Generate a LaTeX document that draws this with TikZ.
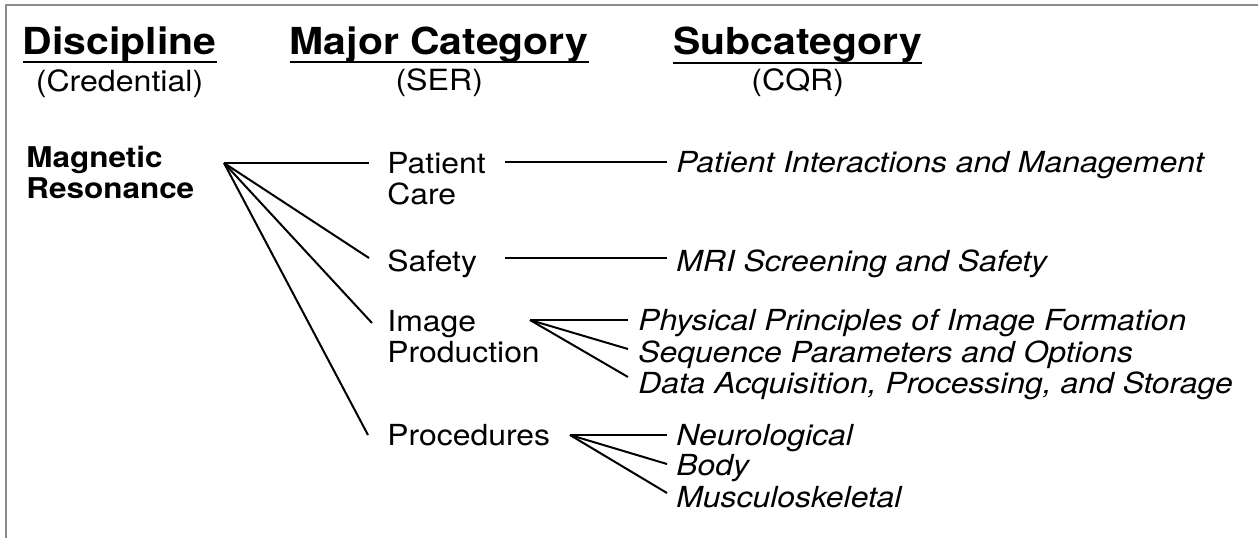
\documentclass[tikz,border=0pt]{standalone}
\usepackage{fontspec}
\setmainfont{TeX Gyre Heros}[FakeStretch=1.1]

\tikzset{
  head/.style={anchor=base west, inner sep=0pt, font=\fontsize{18.6}{20}\selectfont\bfseries},
  paren/.style={anchor=base, inner sep=0pt, font=\fontsize{14.6}{15.5}\selectfont},
  disc/.style={anchor=base west, inner sep=0pt, align=left, font=\fontsize{14.3}{15.5}\selectfont\bfseries},
  cat/.style={anchor=base west, inner sep=0pt, align=left, font=\fontsize{14.5}{15.5}\selectfont},
  item/.style={anchor=base west, inner sep=0pt, font=\fontsize{14.5}{15.5}\selectfont\itshape},
  link/.style={line width=1pt},
  uline/.style={line width=1pt},
}

\begin{document}
\begin{tikzpicture}[x=0.5pt, y=-0.5pt]
		\useasboundingbox (0,0) rectangle (1258,538);
		\draw[black!45, line width=0.8pt] (6,538) -- (6,5) -- (1258,5);

		% column heads
		\node[head] (hdisc) at (22.5,54) {Discipline};
		\node[head] (hmaj) at (289.5,54) {Major Category};
		\node[head] (hsub) at (673,54.5) {Subcategory};
		\foreach \h in {hdisc, hmaj, hsub}
			\draw[uline] ([yshift=-4pt]\h.base west) -- ([yshift=-4pt]\h.base east);
		\path (hdisc.base) ++(0,37) node[paren] (pcred) {(Credential)};
		\path (hmaj.base) ++(0,36) node[paren] (pser) {(SER)};
		\path (hsub.base) ++(0,35.5) node[paren] (pcqr) {(CQR)};

		% discipline and categories (anchored on the last line)
		\node[disc] (mr) at (26,198) {Magnetic\\Resonance};
		\node[cat] (pc) at (387,204) {Patient\\Care};
		\node[cat] (sa) at (387,271) {Safety};
		\node[cat] (ip) at (387,362) {Image\\Production};
		\node[cat] (pr) at (387,445) {Procedures};

		% subcategories
		\node[item] (pim) at (676,172) {Patient Interactions and Management};
		\node[item] (mss) at (676,271) {MRI Screening and Safety};
		\node[item] (ppf) at (638,330) {Physical Principles of Image Formation};
		\node[item] (spo) at (638,362) {Sequence Parameters and Options};
		\node[item] (dap) at (638,393) {Data Acquisition, Processing, and Storage};
		\node[item] (neu) at (676,445) {Neurological};
		\node[item] (bod) at (676,475) {Body};
		\node[item] (msk) at (676,507) {Musculoskeletal};

		% end points of the connectors
		\coordinate (mr-out) at (224,163);
		\coordinate (pc-in) at (369,163);
		\coordinate (sa-in) at (369,258);
		\coordinate (ip-in) at (372,323);
		\coordinate (pr-in) at (368,435);
		\coordinate (pc-out) at (505,162);
		\coordinate (pim-in) at (667,162);
		\coordinate (sa-out) at (505,258);
		\coordinate (mss-in) at (667,258);
		\coordinate (ip-out) at (530,320);
		\coordinate (ppf-in) at (628,320);
		\coordinate (spo-in) at (628,349);
		\coordinate (dap-in) at (628,377);
		\coordinate (pr-out) at (570,435);
		\coordinate (neu-in) at (667,435);
		\coordinate (bod-in) at (667,464);
		\coordinate (msk-in) at (667,493);

		\foreach \t in {pc-in, sa-in, ip-in, pr-in}
			\draw[link] (mr-out) -- (\t);
		\draw[link] (pc-out) -- (pim-in);
		\draw[link] (sa-out) -- (mss-in);
		\foreach \t in {ppf-in, spo-in, dap-in}
			\draw[link] (ip-out) -- (\t);
		\foreach \t in {neu-in, bod-in, msk-in}
			\draw[link] (pr-out) -- (\t);
	\end{tikzpicture}
\end{document}
